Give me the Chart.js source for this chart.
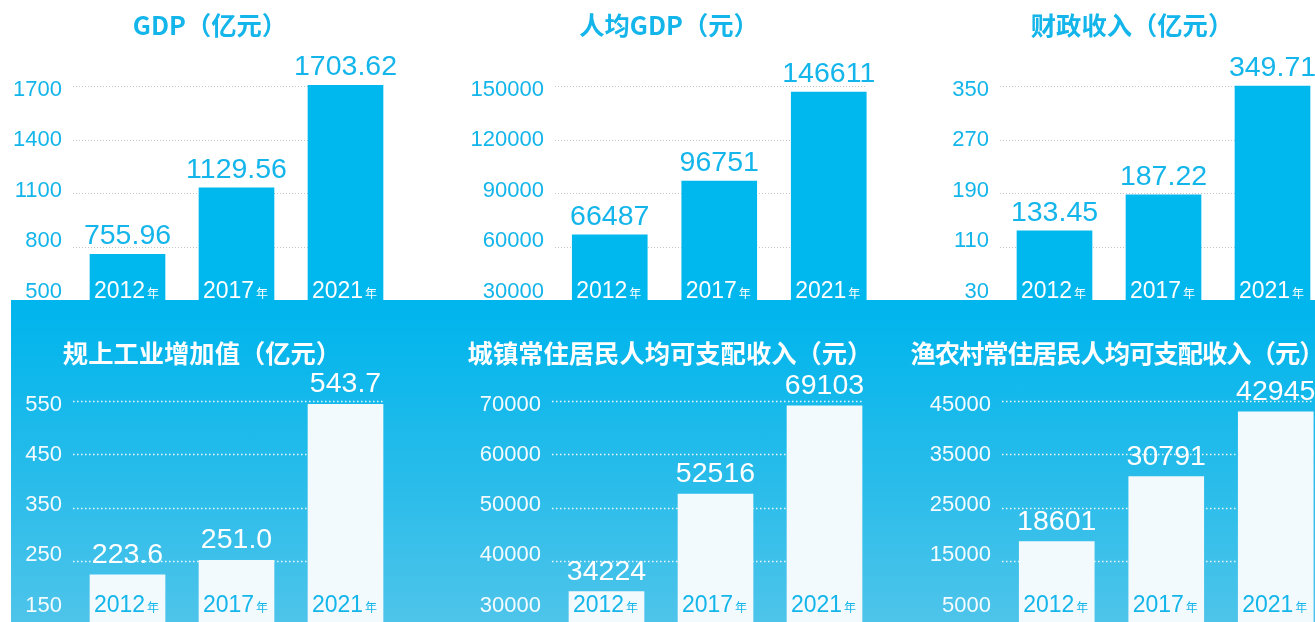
<!DOCTYPE html>
<html lang="zh-CN">
<head>
  <meta charset="UTF-8">
  <title>经济指标对比</title>
  <script src="https://cdn.jsdelivr.net/npm/chart.js"></script>
  <style>
    html, body {
      margin: 0;
      padding: 0;
      width: 1315px;
      height: 622px;
      overflow: hidden;
      background: #ffffff;
    }
    .band {
      position: absolute;
      left: 11px;
      top: 300px;
      width: 1304px;
      height: 322px;
      background: linear-gradient(to bottom, #00b5ed 0%, #06b6ec 12%, #28bcea 55%, #4ec4ea 100%);
    }
    canvas {
      position: absolute;
    }
    .title {
      position: absolute;
      font-family: "Noto Sans CJK SC", sans-serif;
      font-weight: 700;
      font-size: 25.3px;
      line-height: 26px;
      white-space: nowrap;
      transform: translateX(-50%);
    }
  </style>
</head>
<body>
  <canvas id="c1"></canvas>
  <canvas id="c2"></canvas>
  <canvas id="c3"></canvas>
  <div class="band"></div>
  <canvas id="c4"></canvas>
  <canvas id="c5"></canvas>
  <canvas id="c6"></canvas>

  <script>
    // data
    const years = ['2012', '2017', '2021'];

    const gdpValues = [755.96, 1129.56, 1703.62];
    const gdpTicks = [500, 800, 1100, 1400, 1700];

    const perCapitaValues = [66487, 96751, 146611];
    const perCapitaTicks = [30000, 60000, 90000, 120000, 150000];

    const revenueValues = [133.45, 187.22, 349.71];
    const revenueTicks = [30, 110, 190, 270, 350];

    const industryValues = [223.6, 251.0, 543.7];
    const industryTicks = [150, 250, 350, 450, 550];

    const urbanValues = [34224, 52516, 69103];
    const urbanTicks = [30000, 40000, 50000, 60000, 70000];

    const ruralValues = [18601, 30791, 42945];
    const ruralTicks = [5000, 15000, 25000, 35000, 45000];

    const CYAN = '#13b5ea';
    const BAR_CYAN = '#00b8ee';
    const BAR_WHITE = '#f2fafd';
    const NUM_FONT = '"Liberation Sans", Arial, sans-serif';

    // layout: canvas box [x, y, w, h], plot left, category width, plot top/bottom
    const panels = [
      { id: 'c1', title: 'GDP（亿元）', values: gdpValues, ticks: gdpTicks, decimals: 2, light: false,
        box: [0, 0, 440, 300], areaLeft: 73, cat: 109, top: 86, bottom: 300, titleX: 210, titleY: 24 },
      { id: 'c2', title: '人均GDP（元）', values: perCapitaValues, ticks: perCapitaTicks, decimals: 0, light: false,
        box: [440, 0, 445, 300], areaLeft: 555, cat: 109.5, top: 86, bottom: 300, titleX: 669, titleY: 24 },
      { id: 'c3', title: '财政收入（亿元）', values: revenueValues, ticks: revenueTicks, decimals: 2, light: false,
        box: [885, 0, 445, 300], areaLeft: 1000, cat: 109, top: 86, bottom: 300, titleX: 1132, titleY: 24 },
      { id: 'c4', title: '规上工业增加值（亿元）', values: industryValues, ticks: industryTicks, decimals: 1, light: true,
        box: [0, 300, 440, 322], areaLeft: 73, cat: 109, top: 401, bottom: 614, titleX: 202, titleY: 352 },
      { id: 'c5', title: '城镇常住居民人均可支配收入（元）', values: urbanValues, ticks: urbanTicks, decimals: 0, light: true,
        box: [440, 300, 445, 322], areaLeft: 552, cat: 109, top: 401, bottom: 614, titleX: 670, titleY: 352 },
      { id: 'c6', title: '渔农村常住居民人均可支配收入（元）', values: ruralValues, ticks: ruralTicks, decimals: 0, light: true,
        box: [885, 300, 450, 322], areaLeft: 1002, cat: 109.5, top: 401, bottom: 614, titleX: 1117, titleY: 352, tight: true }
    ];

    // tick labels sit a little inside the grid range in the original
    const LABEL_SHIFT_TOP = 4;
    const LABEL_SHIFT_BOTTOM = 8.5;

    const decorPlugin = {
      id: 'decor',
      beforeDatasetsDraw(chart, args, opts) {
        const { ctx, chartArea } = chart;
        const yScale = chart.scales.y;
        const bars = chart.getDatasetMeta(0).data;
        const last = bars[bars.length - 1];
        const right = last.x + last.width / 2;
        ctx.save();
        ctx.strokeStyle = opts.gridColor;
        ctx.lineWidth = opts.gridWidth;
        ctx.setLineDash(opts.dash);
        opts.ticks.slice(1).forEach(v => {
          const py = Math.round(yScale.getPixelForValue(v)) + 0.5;
          ctx.beginPath();
          ctx.moveTo(chartArea.left, py);
          ctx.lineTo(right, py);
          ctx.stroke();
        });
        ctx.restore();
      },
      afterDatasetsDraw(chart, args, opts) {
        const { ctx, chartArea } = chart;
        const bars = chart.getDatasetMeta(0).data;
        const values = chart.data.datasets[0].data;
        ctx.save();
        bars.forEach((bar, i) => {
          // value above the bar
          ctx.font = '28.5px ' + NUM_FONT;
          ctx.fillStyle = opts.valueColor;
          ctx.textAlign = 'center';
          ctx.textBaseline = 'alphabetic';
          ctx.fillText(values[i].toFixed(opts.decimals), bar.x, bar.y - opts.valueGap);

          // year label inside the bar
          const year = chart.data.labels[i];
          ctx.font = '23px ' + NUM_FONT;
          const w1 = ctx.measureText(year).width;
          ctx.font = '12px "Noto Sans CJK SC", sans-serif';
          const w2 = ctx.measureText('年').width;
          const x0 = bar.x - (w1 + 2 + w2) / 2 - 1;
          const base = chartArea.bottom - 2;
          ctx.textAlign = 'left';
          ctx.fillStyle = opts.yearColor;
          ctx.font = '23px ' + NUM_FONT;
          ctx.fillText(year, x0, base);
          ctx.font = '12px "Noto Sans CJK SC", sans-serif';
          ctx.fillText('年', x0 + w1 + 2, base);
        });
        ctx.restore();
      }
    };

    panels.forEach(p => {
      const [cx, cy, cw, ch] = p.box;
      const canvas = document.getElementById(p.id);
      canvas.width = cw;
      canvas.height = ch;
      canvas.style.left = cx + 'px';
      canvas.style.top = cy + 'px';

      const title = document.createElement('div');
      title.className = 'title';
      title.textContent = p.title;
      title.style.left = p.titleX + 'px';
      title.style.top = (p.titleY - 13) + 'px';
      title.style.color = p.light ? '#ffffff' : CYAN;
      if (p.tight) title.style.letterSpacing = '-1px';
      document.body.appendChild(title);

      const t0 = p.ticks[0];
      const tn = p.ticks[p.ticks.length - 1];
      const plotH = p.bottom - p.top;
      const perPx = (tn - t0) / (plotH - LABEL_SHIFT_TOP - LABEL_SHIFT_BOTTOM);

      new Chart(canvas, {
        type: 'bar',
        data: {
          labels: years,
          datasets: [{
            data: p.values,
            backgroundColor: p.light ? BAR_WHITE : BAR_CYAN,
            barThickness: 75,
            clip: false
          }]
        },
        options: {
          responsive: false,
          animation: false,
          events: [],
          layout: {
            padding: {
              left: 0,
              top: p.top - cy,
              bottom: cy + ch - p.bottom,
              right: cx + cw - (p.areaLeft + 3 * p.cat)
            }
          },
          plugins: {
            legend: { display: false },
            tooltip: { enabled: false },
            decor: {
              ticks: p.ticks,
              decimals: p.decimals,
              gridColor: p.light ? 'rgba(255,255,255,0.9)' : '#c4c4c4',
              gridWidth: p.light ? 1.5 : 1,
              dash: p.light ? [1.5, 2.5] : [1, 2],
              valueColor: p.light ? '#ffffff' : CYAN,
              valueGap: p.light ? 12 : 10,
              yearColor: p.light ? CYAN : '#ffffff'
            }
          },
          scales: {
            x: { display: false },
            y: { display: false, min: t0, max: tn },
            yl: {
              type: 'linear',
              axis: 'y',
              position: 'left',
              min: t0 - LABEL_SHIFT_BOTTOM * perPx,
              max: tn + LABEL_SHIFT_TOP * perPx,
              grid: { display: false, drawTicks: false },
              border: { display: false },
              afterBuildTicks: s => { s.ticks = p.ticks.map(v => ({ value: v })); },
              afterFit: s => {
                s.width = p.areaLeft - cx;
                s.paddingTop = 0;
                s.paddingBottom = 0;
              },
              ticks: {
                padding: 11,
                color: p.light ? '#f4fbfe' : CYAN,
                font: { family: NUM_FONT, size: 22 },
                callback: v => String(v)
              }
            }
          }
        },
        plugins: [decorPlugin]
      });
    });
  </script>
</body>
</html>
